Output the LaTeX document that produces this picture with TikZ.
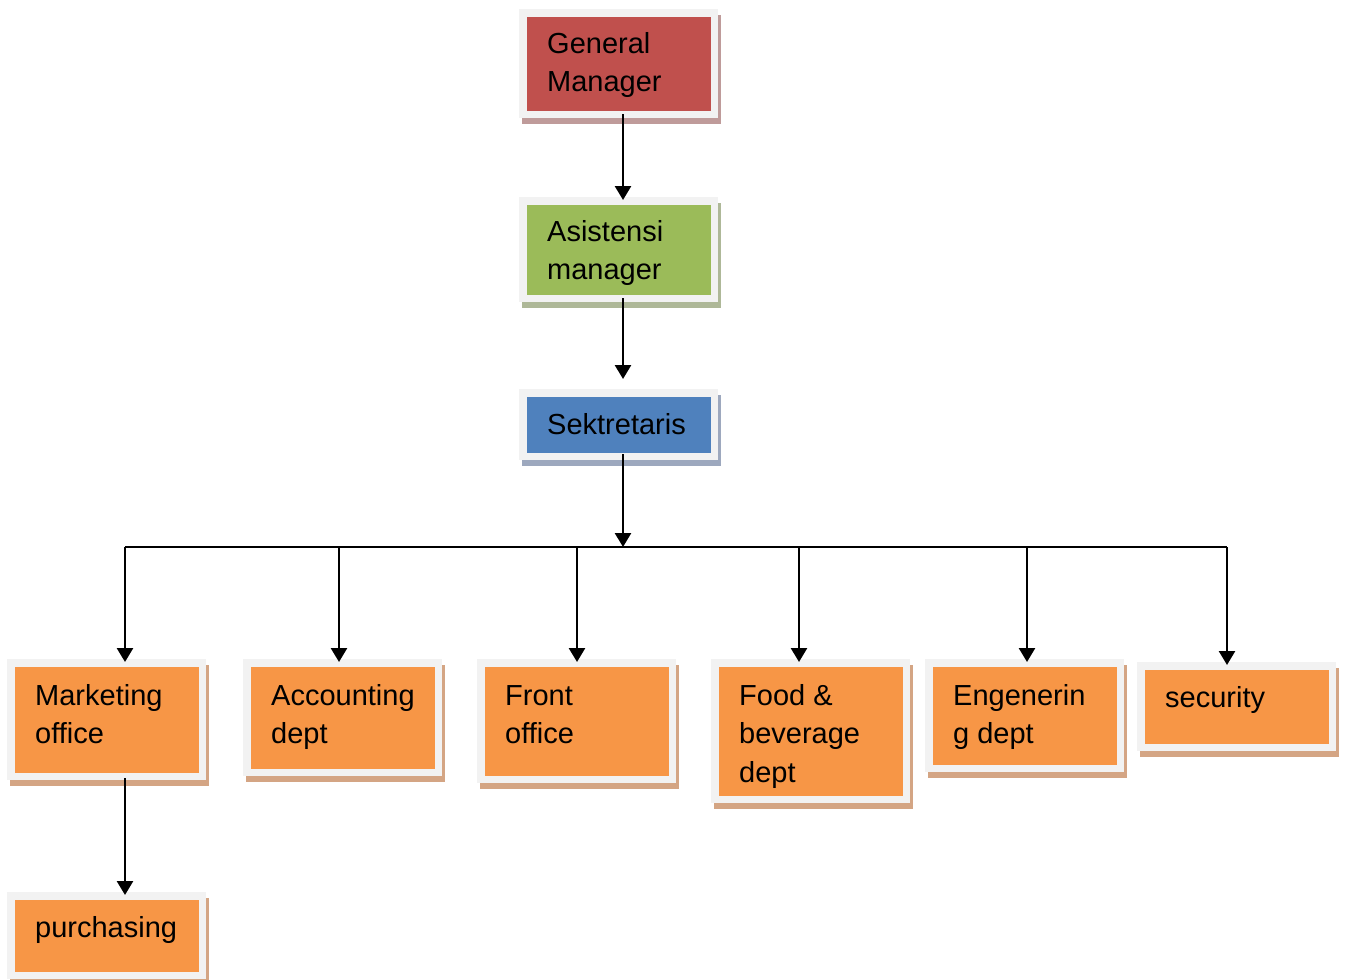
\documentclass[tikz,border=0pt]{standalone}
\usepackage{fontspec}
\setmainfont{Liberation Sans}
\usetikzlibrary{arrows.meta}

\definecolor{framegray}{HTML}{F2F2F2}
\definecolor{gmred}{HTML}{C0504D}
\definecolor{gmshade}{HTML}{BF9B9A}
\definecolor{asgreen}{HTML}{9BBB59}
\definecolor{asshade}{HTML}{AEB898}
\definecolor{skblue}{HTML}{4F81BD}
\definecolor{skshade}{HTML}{9DA8BE}
\definecolor{deptorange}{HTML}{F79646}
\definecolor{deptshade}{HTML}{D4A584}

\tikzset{
  boxfill/.style={inner sep=0pt, outer sep=0pt, draw=none},
  boxtext/.style={anchor=north west, inner sep=0pt, align=left,
    font=\fontsize{29}{38.5}\selectfont},
  link/.style={line width=2.6pt, -{Triangle[length=14pt,width=16pt]}},
  busline/.style={line width=2.6pt}
}

% #1 name, #2-#5 inner box (left, top, right, bottom), #6 fill, #7 shadow,
% #8 text, #9 first baseline offset from the inner top
\newcommand\orgunit[9]{%
  \fill[#7] (#2-8+3,#3-8+6) rectangle (#4+7+3,#5+7+6);
  \fill[framegray] (#2-8,#3-8) rectangle (#4+7,#5+7);
  \node (#1) [boxfill, fill=#6, minimum width={(#4-#2)*1pt},
    minimum height={(#5-#3)*1pt}] at ({(#2+#4)/2},{(#3+#5)/2}) {};
  \node (#1-text) [boxtext] at (#2+20,#3+#9-22) {\rule{0pt}{22pt}#8};
}

\begin{document}
\begin{tikzpicture}[x=1pt,y=-1pt]
\useasboundingbox (0,0) rectangle (1347,980);
\fill[white] (0,0) rectangle (1347,980);

\orgunit{gm}{527}{17}{711}{111}{gmred}{gmshade}{General\\Manager}{36}
\orgunit{asis}{527}{205}{711}{295}{asgreen}{asshade}{Asistensi\\manager}{36}
\orgunit{sek}{527}{397}{711}{453}{skblue}{skshade}{Sektretaris}{37}

\orgunit{mkt}{15}{667}{199}{773}{deptorange}{deptshade}{Marketing\\office}{38}
\orgunit{acc}{251}{667}{435}{769}{deptorange}{deptshade}{Accounting\\dept}{38}
\orgunit{fo}{485}{667}{669}{776}{deptorange}{deptshade}{Front\\office}{38}
\orgunit{fnb}{719}{667}{903}{796}{deptorange}{deptshade}{Food \&\\beverage\\dept}{38}
\orgunit{eng}{933}{667}{1117}{765}{deptorange}{deptshade}{Engenerin\\g dept}{38}
\orgunit{sec}{1145}{670}{1329}{744}{deptorange}{deptshade}{security}{37}
\orgunit{pur}{15}{900}{199}{972}{deptorange}{deptshade}{purchasing}{37}

% spine and distribution bus
\coordinate (spine) at (623,547);
\coordinate (d1) at (125,547);
\coordinate (d2) at (339,547);
\coordinate (d3) at (577,547);
\coordinate (d4) at (799,547);
\coordinate (d5) at (1027,547);
\coordinate (d6) at (1227,547);

\draw[link, shorten <=3pt, shorten >=5pt] (spine |- gm.south) -- (spine |- asis.north);
\draw[link, shorten <=3pt, shorten >=18pt] (spine |- asis.south) -- (spine |- sek.north);
\draw[link, shorten <=1pt] (spine |- sek.south) -- (spine);

\draw[busline] (d1) -- (d6);
\draw[link, shorten >=5pt] (d1) -- (d1 |- mkt.north);
\draw[link, shorten >=5pt] (d2) -- (d2 |- acc.north);
\draw[link, shorten >=5pt] (d3) -- (d3 |- fo.north);
\draw[link, shorten >=5pt] (d4) -- (d4 |- fnb.north);
\draw[link, shorten >=5pt] (d5) -- (d5 |- eng.north);
\draw[link, shorten >=5pt] (d6) -- (d6 |- sec.north);

\draw[link, shorten <=5pt, shorten >=5pt] (d1 |- mkt.south) -- (d1 |- pur.north);
\end{tikzpicture}
\end{document}
